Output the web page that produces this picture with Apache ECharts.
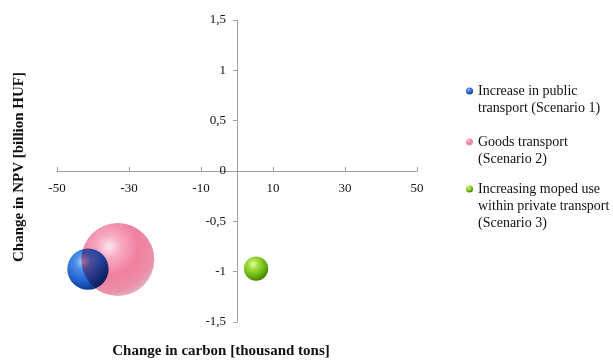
<!DOCTYPE html>
<html>
<head>
<meta charset="utf-8">
<script src="https://cdn.jsdelivr.net/npm/echarts@6/dist/echarts.min.js"></script>
<style>
  html, body { margin: 0; padding: 0; background: #fff; }
  #chart { width: 613px; height: 363px; }
</style>
</head>
<body>
<div id="chart"></div>
<script>
// Scenario data: change in carbon (thousand tons), change in NPV (billion HUF), bubble weight
const scenarioNames = [
  'Increase in public\ntransport (Scenario 1)',
  'Goods transport\n(Scenario 2)',
  'Increasing moped use\nwithin private transport\n(Scenario 3)'
];
const carbonChange = [-41.4, -33.1, 5.3];
const npvChange = [-0.975, -0.88, -0.97];
const bubbleWeight = [0.32, 1.0, 0.11];

const xTickLabels = ['-50', '-30', '-10', '10', '30', '50'];
const yTickLabels = ['-1,5', '-1', '-0,5', '0', '0,5', '1', '1,5'];

const xAxisTitle = 'Change in carbon [thousand tons]';
const yAxisTitle = 'Change in NPV [billion HUF]';

// Plot area and axis ranges
const grid = { left: 57, top: 20, width: 360, height: 302 };
const xRange = [-50, 50];
const yRange = [-1.5, 1.5];
// Both axes cross at the origin, so shift them from the grid edges to the zero lines
const xZeroPx = grid.left + grid.width * (0 - xRange[0]) / (xRange[1] - xRange[0]);
const yZeroPx = grid.top + grid.height * (yRange[1] - 0) / (yRange[1] - yRange[0]);
const yAxisShift = -(xZeroPx - grid.left);
const xAxisShift = -(grid.top + grid.height - yZeroPx);

function sphere(stops) {
  return {
    type: 'radial', x: 0.38, y: 0.32, r: 0.72,
    colorStops: stops.map(function (c) { return { offset: c[0], color: c[1] }; })
  };
}

const fills = [
  sphere([[0, '#b4d4f8'], [0.25, '#4f90ea'], [0.65, '#2062cf'], [1, '#0e3586']]),
  sphere([[0, '#fde6ee'], [0.22, '#f7aac2'], [0.55, '#f0809f'], [0.85, '#ec8ea8'], [1, '#e2b2c0']]),
  sphere([[0, '#e2fca0'], [0.3, '#a2dc3c'], [0.7, '#66b210'], [1, '#3b7a00']])
];

const serif = '"Liberation Serif", "Times New Roman", serif';

const series = scenarioNames.map(function (name, i) {
  return {
    name: name,
    type: 'scatter',
    data: [[carbonChange[i], npvChange[i], bubbleWeight[i]]],
    symbolSize: function (v) { return 73 * Math.sqrt(v[2]); },
    itemStyle: { color: fills[i], opacity: 1 },
    blendMode: i === 1 ? 'multiply' : 'source-over',
    emphasis: { disabled: true },
    z: 2 + i
  };
});

// One legend block per scenario; blank lines above the label keep the
// marker level with the first text line
const legendFirstLine = [91, 142, 189];
const lineH = 17;
const legends = scenarioNames.map(function (name, i) {
  const lines = name.split('\n').length;
  const lead = '\n'.repeat(lines - 1);
  return {
    data: [name],
    orient: 'vertical',
    left: 466,
    top: legendFirstLine[i] - (2 * lines - 1) * lineH / 2,
    padding: 0,
    itemWidth: 7,
    itemHeight: 7,
    icon: 'circle',
    selectedMode: false,
    formatter: function (n) { return lead + n; },
    textStyle: {
      fontFamily: serif,
      fontSize: 14,
      lineHeight: lineH,
      color: '#111'
    }
  };
});

const axisGray = '#a0a0a0';

const chart = echarts.init(document.getElementById('chart'), null, { renderer: 'canvas' });
chart.setOption({
  animation: false,
  backgroundColor: '#ffffff',
  grid: { left: grid.left, top: grid.top, width: grid.width, height: grid.height, containLabel: false },
  xAxis: {
    type: 'value',
    min: xRange[0], max: xRange[1], interval: 20,
    position: 'bottom',
    offset: xAxisShift,
    axisLine: { onZero: false, lineStyle: { color: axisGray, width: 1 } },
    axisTick: { show: true, inside: true, length: 4, lineStyle: { color: axisGray } },
    axisLabel: {
      margin: 11,
      fontFamily: serif, fontSize: 13, color: '#111',
      formatter: function (v, idx) { return xTickLabels[idx]; }
    },
    splitLine: { show: false }
  },
  yAxis: {
    type: 'value',
    min: yRange[0], max: yRange[1], interval: 0.5,
    position: 'left',
    offset: yAxisShift,
    axisLine: { onZero: false, lineStyle: { color: axisGray, width: 1 } },
    axisTick: { show: true, length: 4, lineStyle: { color: axisGray } },
    axisLabel: {
      margin: 11,
      fontFamily: serif, fontSize: 13, color: '#111',
      formatter: function (v, idx) { return yTickLabels[idx]; }
    },
    splitLine: { show: false }
  },
  legend: legends,
  graphic: [
    {
      type: 'text', x: 221, y: 351,
      style: {
        text: xAxisTitle, fontFamily: serif, fontSize: 15, fontWeight: 'bold', fill: '#111',
        align: 'center', verticalAlign: 'middle'
      }
    },
    {
      type: 'text', x: 19, y: 167, rotation: Math.PI / 2,
      style: {
        text: yAxisTitle, fontFamily: serif, fontSize: 15, fontWeight: 'bold', fill: '#111',
        align: 'center', verticalAlign: 'middle'
      }
    }
  ],
  series: series
});
</script>
</body>
</html>
